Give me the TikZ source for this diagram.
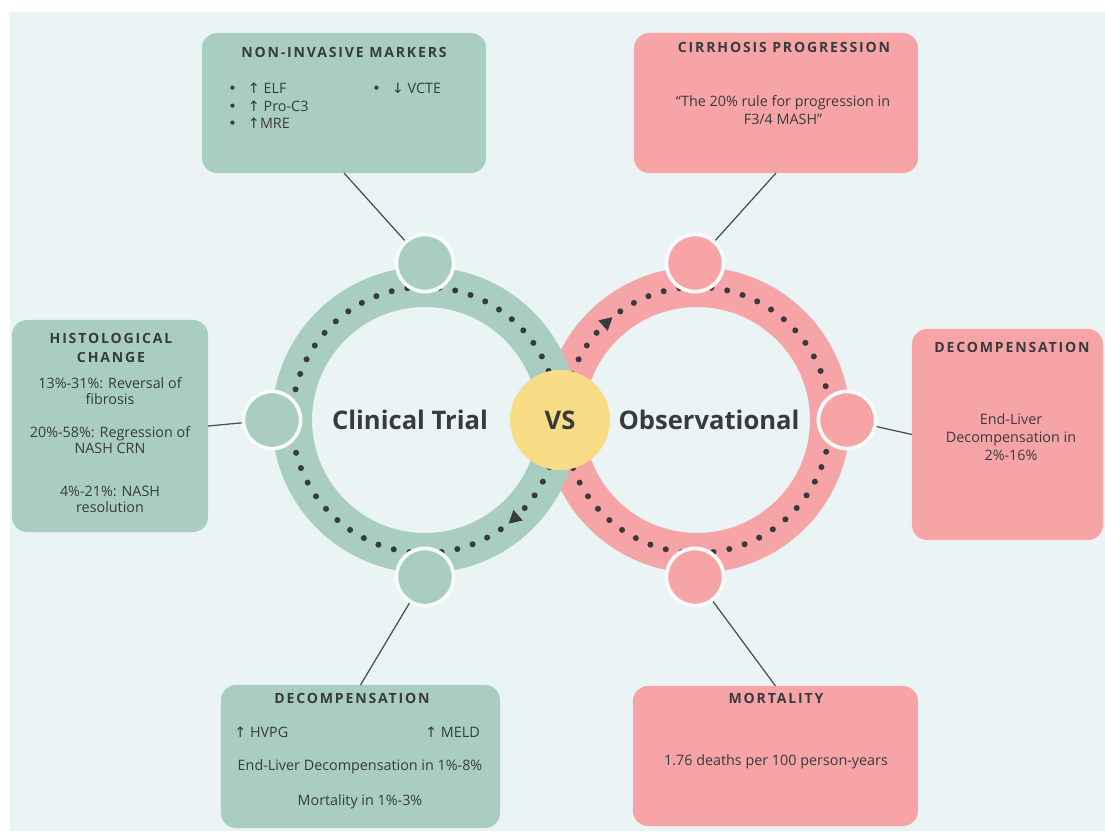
\documentclass[tikz,border=0pt]{standalone}
\usepackage{fontspec}
\setmainfont{Open Sans}
\newfontfamily\ttlfont[LetterSpace=13]{Open Sans}
\newfontfamily\arrfont{DejaVu Sans}
\usetikzlibrary{decorations.markings}

\definecolor{bgcol}{HTML}{EAF4F5}
\definecolor{gfill}{HTML}{A9CDBF}
\definecolor{pfill}{HTML}{F6A4A6}
\definecolor{vsfill}{HTML}{F8DC86}
\definecolor{ink}{HTML}{383B3E}
\definecolor{linecol}{HTML}{4D5052}

\newcommand\upar{{\arrfont ↑}}
\newcommand\dnar{{\arrfont ↓}}
\newcommand\bul{{\arrfont •}}

\begin{document}
\begin{tikzpicture}[x=0.025cm, y=-0.025cm,
  box/.style={rounded corners=0.38cm, inner sep=0pt, outer sep=0pt},
  gbox/.style={box, fill=gfill},
  pbox/.style={box, fill=pfill},
  ring/.style={line width=1cm},
  dots/.style={draw=ink, line width=4.3pt, line cap=round, dash pattern=on 0pt off 11.4pt},
  tri at/.style={postaction={decorate}, decoration={markings, mark=at position #1 with
      {\fill[ink, solid] (4.5pt,0pt) -- (-4.5pt,5pt) -- (-4.5pt,-5pt) -- cycle;}}},
  handle/.style={circle, draw=white!60!bgcol, line width=2.6pt, minimum size=1.43cm, inner sep=0pt},
  link/.style={draw=linecol, line width=0.9pt},
  ttl/.style={text=ink, font=\ttlfont\bfseries\fontsize{10}{14}\selectfont, align=center, inner sep=0pt},
  txt/.style={text=ink, font=\fontsize{10.2}{11.4}\selectfont, align=center, inner sep=0pt},
  big/.style={text=ink, font=\bfseries\fontsize{18.2}{20}\selectfont, inner sep=0pt}]
  \useasboundingbox (0,0) rectangle (1105,831);
  \fill[bgcol] (10,12) rectangle (1105,831);

  % the two rings
  \coordinate (gc) at (425,420);
  \coordinate (pc) at (697,420);
  \draw[ring, pfill] (pc) circle[radius=133];
  \draw[ring, gfill] (gc) circle[radius=133];
  \draw[dots, tri at=0.6329] (pc) ++(133,0) arc[start angle=0, end angle=360, radius=133];
  \draw[dots, tri at=0.1343] (gc) ++(133,0) arc[start angle=0, end angle=360, radius=133];

  \node[circle, fill=vsfill, minimum size=2.5cm, inner sep=0pt] (vs) at (560,420) {};
  \node[big] (vstxt) at (vs) {VS};
  \node[big] (ct) at (410,420) {Clinical Trial};
  \node[big] (obs) at (709,420) {Observational};

  % handles
  \node[handle, fill=gfill] (gtop) at (425,263) {};
  \node[handle, fill=gfill] (gleft) at (272,420) {};
  \node[handle, fill=gfill] (gbot) at (425,577) {};
  \node[handle, fill=pfill] (ptop) at (695,263) {};
  \node[handle, fill=pfill] (pright) at (847,420) {};
  \node[handle, fill=pfill] (pbot) at (695,577) {};

  % boxes
  \node[gbox, minimum width=7.1cm, minimum height=3.5cm] (nim) at (344,103) {};
  \node[pbox, minimum width=7.1cm, minimum height=3.5cm] (cirr) at (776,103) {};
  \node[gbox, minimum width=4.9cm, minimum height=5.3cm] (hist) at (110,426) {};
  \node[pbox, minimum width=4.775cm, minimum height=5.275cm] (decr) at (1007.5,434.5) {};
  \node[gbox, minimum width=6.975cm, minimum height=3.575cm] (decg) at (360.5,756.5) {};
  \node[pbox, minimum width=7.125cm, minimum height=3.5cm] (mort) at (775.5,756) {};

  \draw[link] (nim.south) -- (gtop);
  \draw[link] (hist.east) -- (gleft);
  \draw[link] (decg.north) -- (gbot);
  \draw[link] (cirr.south) -- (ptop);
  \draw[link] (decr.west) -- (pright);
  \draw[link] (mort.north) -- (pbot);

  % non-invasive markers
  \node[ttl] (nimT) at (344,52) {NON-INVASIVE MARKERS};
  \node[txt, anchor=west] (elf) at (228,88) {\bul\hspace{8pt}\upar\ ELF};
  \node[txt, anchor=west] (proc) at (228,106) {\bul\hspace{8pt}\upar\ Pro-C3};
  \node[txt, anchor=west] (mre) at (228,123) {\bul\hspace{8pt}\upar MRE};
  \node[txt, anchor=west] (vcte) at (372,88) {\bul\hspace{8pt}\dnar\ VCTE};

  % cirrhosis progression
  \node[ttl] (cirT) at (784,47) {CIRRHOSIS PROGRESSION};
  \node[txt, font=\fontsize{10.2}{12.8}\selectfont] (cirB) at (783,110) {“The 20\% rule for progression in\\F3/4 MASH”};

  % histological change
  \node[ttl] (hisT) at (111,348) {HISTOLOGICAL\\CHANGE};
  \node[txt] (his1) at (110,391) {13\%-31\%: Reversal of\\fibrosis};
  \node[txt] (his2) at (110,440) {20\%-58\%: Regression of\\NASH CRN};
  \node[txt] (his3) at (110,499) {4\%-21\%: NASH\\resolution};

  % decompensation, observational
  \node[ttl] (decrT) at (1012,347) {DECOMPENSATION};
  \node[txt, font=\fontsize{10.2}{12.8}\selectfont] (decrB) at (1011,437) {End-Liver\\Decompensation in\\2\%-16\%};

  % decompensation, clinical trial
  \node[ttl] (decgT) at (352,698) {DECOMPENSATION};
  \node[txt, anchor=west] (hvpg) at (234,732) {\upar\ HVPG};
  \node[txt, anchor=east] (meld) at (480,732) {\upar\ MELD};
  \node[txt] (edec) at (360,767) {End-Liver Decompensation in 1\%-8\%};
  \node[txt] (dmor) at (360,802) {Mortality in 1\%-3\%};

  % mortality
  \node[ttl] (morT) at (776,698) {MORTALITY};
  \node[txt] (morB) at (776,762) {1.76 deaths per 100 person-years};
\end{tikzpicture}
\end{document}
